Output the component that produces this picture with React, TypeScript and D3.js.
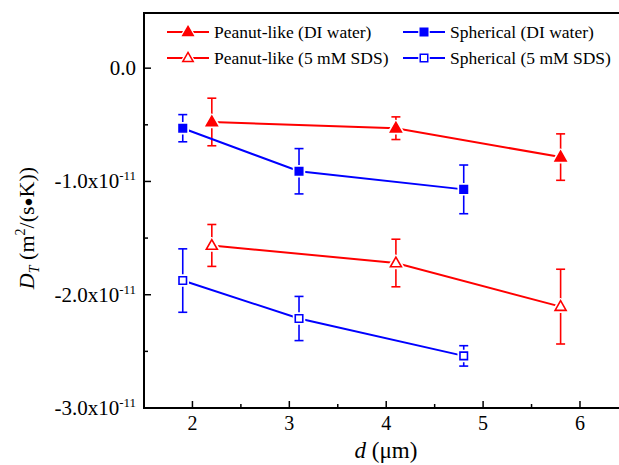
import React, { useRef, useEffect } from "react";
import * as d3 from "d3";

// particle diameter d (um) for each series
const peanutX = [2.2, 4.1, 5.8];
const sphereX = [1.9, 3.1, 4.8];

// DT values in units of 1e-11 m^2/(s K)
const peanutDI = [-0.475, -0.53, -0.785];
const peanutDIErr = [0.21, 0.1, 0.205];
const sphereDI = [-0.53, -0.91, -1.07];
const sphereDIErr = [0.12, 0.2, 0.215];
const peanutSDS = [-1.565, -1.72, -2.105];
const peanutSDSErr = [0.185, 0.21, 0.33];
const sphereSDS = [-1.875, -2.21, -2.54];
const sphereSDSErr = [0.28, 0.195, 0.09];

const xTicks = [2, 3, 4, 5, 6];
const xMinor = [2.5, 3.5, 4.5, 5.5];
const yTicks = [0, -1, -2, -3];
const yMinor = [-0.5, -1.5, -2.5];

const seriesList = [
  { name: "Peanut-like (DI water)", x: peanutX, y: peanutDI, err: peanutDIErr, color: "#ff0000", shape: "tri", filled: true },
  { name: "Spherical (DI water)", x: sphereX, y: sphereDI, err: sphereDIErr, color: "#0000ff", shape: "sq", filled: true },
  { name: "Peanut-like (5 mM SDS)", x: peanutX, y: peanutSDS, err: peanutSDSErr, color: "#ff0000", shape: "tri", filled: false },
  { name: "Spherical (5 mM SDS)", x: sphereX, y: sphereSDS, err: sphereSDSErr, color: "#0000ff", shape: "sq", filled: false },
];

function App() {
  const svgRef = useRef(null);
  const width = 619;
  const height = 465;
  const left = 144;
  const right = 620; // right border falls just outside the picture
  const top = 13;
  const bottom = 408;

  useEffect(() => {
    const svg = d3.select(svgRef.current);
    svg.selectAll("*").remove();
    const font = "'Liberation Serif', 'Times New Roman', serif";

    const x = d3.scaleLinear().domain([1.5, 6.413]).range([left, right]);
    const y = d3.scaleLinear().domain([-3, 0.487]).range([bottom, top]);

    const triPath = (s) => `M0,${-s * 0.62}L${s * 0.58},${s * 0.4}L${-s * 0.58},${s * 0.4}Z`;
    const sqPath = (s) => `M${-s / 2},${-s / 2}h${s}v${s}h${-s}Z`;

    const plot = svg.append("g");

    seriesList.forEach((s) => {
      const pts = s.x.map((v, i) => [x(v), y(s.y[i])]);
      // connecting line
      plot.append("path")
        .attr("d", d3.line()(pts))
        .attr("fill", "none")
        .attr("stroke", s.color)
        .attr("stroke-width", 2);
      // error bars
      pts.forEach(([px], i) => {
        const e = s.err[i];
        const y1 = y(s.y[i] + e);
        const y2 = y(s.y[i] - e);
        const g = plot.append("g").attr("stroke", s.color).attr("stroke-width", 1.6);
        g.append("line").attr("x1", px).attr("x2", px).attr("y1", y1).attr("y2", y2);
        g.append("line").attr("x1", px - 4.5).attr("x2", px + 4.5).attr("y1", y1).attr("y2", y1);
        g.append("line").attr("x1", px - 4.5).attr("x2", px + 4.5).attr("y1", y2).attr("y2", y2);
      });
    });

    // markers with white halo (lines stop short of the symbols)
    seriesList.forEach((s) => {
      s.x.forEach((v, i) => {
        const px = x(v);
        const py = y(s.y[i]);
        const d = s.shape === "tri" ? triPath(9.5) : sqPath(7.5);
        plot.append("path")
          .attr("transform", `translate(${px},${py})`)
          .attr("d", d)
          .attr("fill", "white")
          .attr("stroke", "white")
          .attr("stroke-width", 5)
          .attr("stroke-linejoin", "round");
        plot.append("path")
          .attr("transform", `translate(${px},${py})`)
          .attr("d", d)
          .attr("fill", s.filled ? s.color : "white")
          .attr("stroke", s.color)
          .attr("stroke-width", 1.6);
      });
    });

    // frame
    svg.append("rect")
      .attr("x", left).attr("y", top)
      .attr("width", right - left).attr("height", bottom - top)
      .attr("fill", "none").attr("stroke", "black").attr("stroke-width", 2);

    // ticks point inward
    const ax = svg.append("g").attr("stroke", "black").attr("stroke-width", 1.5);
    xTicks.forEach((t) => ax.append("line").attr("x1", x(t)).attr("x2", x(t)).attr("y1", bottom).attr("y2", bottom - 7));
    xMinor.forEach((t) => ax.append("line").attr("x1", x(t)).attr("x2", x(t)).attr("y1", bottom).attr("y2", bottom - 4));
    yTicks.forEach((t) => ax.append("line").attr("x1", left).attr("x2", left + 7).attr("y1", y(t)).attr("y2", y(t)));
    yMinor.forEach((t) => ax.append("line").attr("x1", left).attr("x2", left + 4).attr("y1", y(t)).attr("y2", y(t)));

    svg.append("g")
      .selectAll("text")
      .data(xTicks)
      .join("text")
      .attr("x", (d) => x(d))
      .attr("y", bottom + 22)
      .attr("text-anchor", "middle")
      .attr("font-family", font)
      .attr("font-size", 20)
      .text((d) => d);

    yTicks.forEach((t) => {
      const txt = svg.append("text")
        .attr("x", 136)
        .attr("y", y(t) + 7)
        .attr("text-anchor", "end")
        .attr("font-family", font)
        .attr("font-size", 21);
      if (t === 0) {
        txt.text("0.0");
      } else {
        txt.append("tspan").text(`${t.toFixed(1)}x10`);
        txt.append("tspan").attr("dy", -8).attr("font-size", 13).text("-11");
      }
    });

    // axis titles
    const xt = svg.append("text")
      .attr("x", 386)
      .attr("y", 458)
      .attr("text-anchor", "middle")
      .attr("font-family", font)
      .attr("font-size", 23);
    xt.append("tspan").attr("font-style", "italic").text("d");
    xt.append("tspan").text(" (\u03bcm)");

    const yt = svg.append("text")
      .attr("transform", "translate(34,228) rotate(-90)")
      .attr("text-anchor", "middle")
      .attr("font-family", font)
      .attr("font-size", 22);
    yt.append("tspan").attr("font-style", "italic").text("D");
    yt.append("tspan").attr("font-style", "italic").attr("font-size", 14).attr("dy", 5).text("T");
    yt.append("tspan").attr("dy", -5).text(" (m");
    yt.append("tspan").attr("font-size", 14).attr("dy", -9).text("2");
    yt.append("tspan").attr("dy", 9).text("/(s");
    yt.append("tspan").attr("font-size", 15).attr("dy", -1).text("\u25cf");
    yt.append("tspan").attr("dy", 1).text("K))");

    // legend
    const legendPos = [
      [167, 32], [403, 32], [167, 58], [403, 58],
    ];
    seriesList.forEach((s, j) => {
      const [lx, ly] = legendPos[j];
      const g = svg.append("g").attr("transform", `translate(${lx},${ly})`);
      g.append("line").attr("x1", 0).attr("x2", 42).attr("y1", 0).attr("y2", 0)
        .attr("stroke", s.color).attr("stroke-width", 2);
      const d = s.shape === "tri" ? triPath(9) : sqPath(7.5);
      g.append("path").attr("transform", "translate(21,0)").attr("d", d)
        .attr("fill", "white").attr("stroke", "white").attr("stroke-width", 4);
      g.append("path").attr("transform", "translate(21,0)").attr("d", d)
        .attr("fill", s.filled ? s.color : "white")
        .attr("stroke", s.color).attr("stroke-width", 1.5);
      g.append("text")
        .attr("x", 47).attr("y", 6)
        .attr("font-family", font).attr("font-size", 17.5)
        .text(s.name);
    });
  }, []);

  return (
    <svg
      ref={svgRef}
      width={width}
      height={height}
      style={{ position: "absolute", left: 0, top: 0, background: "white" }}
    />
  );
}

export default App;
